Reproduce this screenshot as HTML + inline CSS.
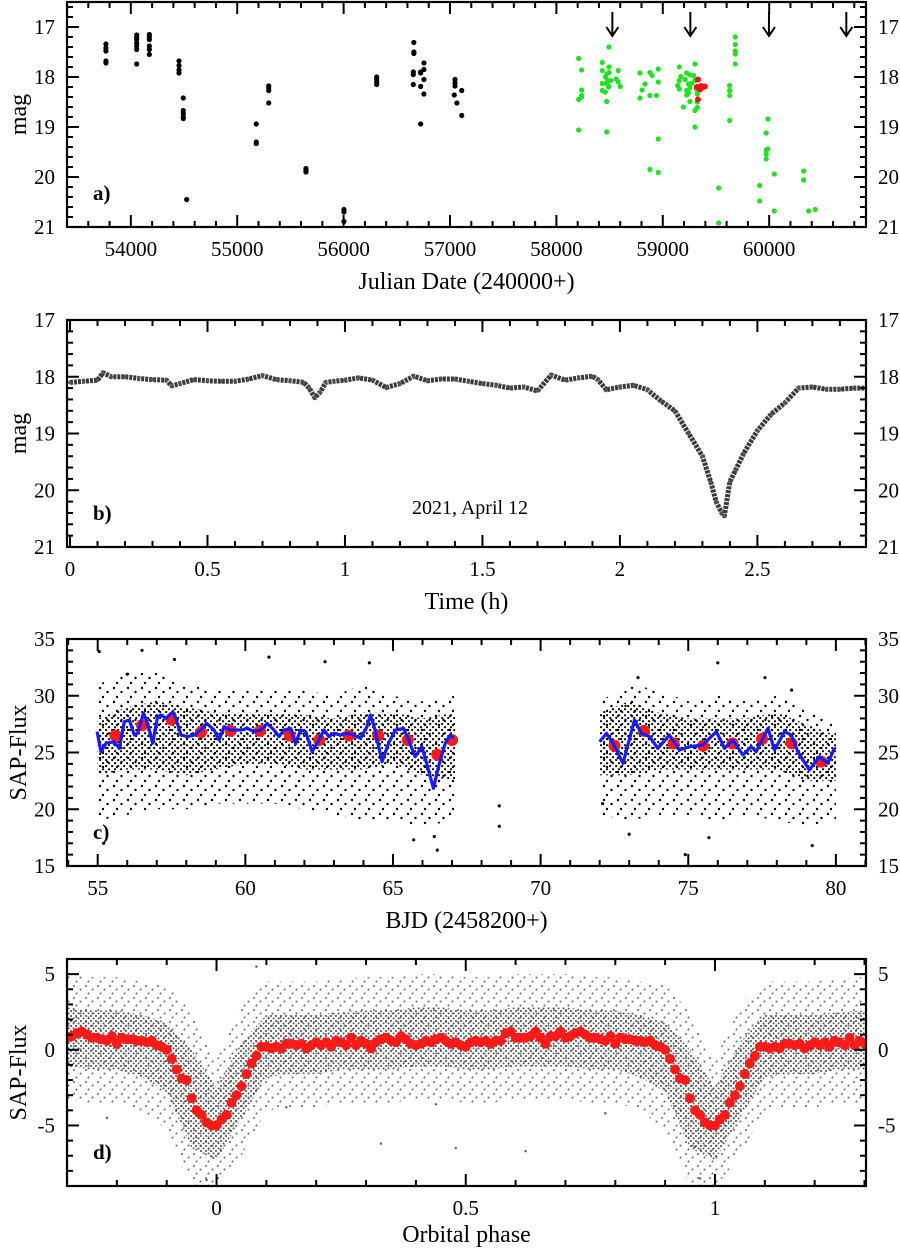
<!DOCTYPE html>
<html><head><meta charset="utf-8">
<style>
html,body{margin:0;padding:0;background:#fff;}
svg{display:block;font-family:"Liberation Serif","DejaVu Serif",serif;}
text{font-family:"Liberation Serif","DejaVu Serif",serif;}
</style></head>
<body>
<svg id="fig" width="900" height="1251" viewBox="0 0 900 1251" xmlns="http://www.w3.org/2000/svg">
<defs>
<pattern id="coreC" width="6" height="6" patternUnits="userSpaceOnUse"><circle cx="1" cy="1.2" r="1.1" fill="#000"/><circle cx="4.2" cy="4" r="1.1" fill="#000"/></pattern>
<pattern id="haloC" width="14" height="14" patternUnits="userSpaceOnUse"><circle cx="2" cy="2" r="1.2" fill="#000"/><circle cx="9.5" cy="6" r="1.2" fill="#000"/><circle cx="5" cy="11" r="1.2" fill="#000"/></pattern>
<pattern id="coreD" width="5" height="5" patternUnits="userSpaceOnUse"><circle cx="1" cy="1" r="1" fill="#444"/><circle cx="3.6" cy="3.4" r="1" fill="#555"/></pattern>
<pattern id="haloD" width="12" height="12" patternUnits="userSpaceOnUse"><circle cx="2" cy="2" r="1" fill="#666"/><circle cx="8.5" cy="5.5" r="1" fill="#666"/><circle cx="4.5" cy="9.5" r="1" fill="#666"/></pattern>
</defs>
</svg>
<script>
// ---------- Panel a data ----------
const aBlackJD  = [53766,53766,53766,53766,53766,54055,54055,54055,54055,54055,54055,54055,54174,54174,54174,54174,54174,54174,54453,54453,54453,54453,54493,54493,54493,54493,54493,54525,55179,55179,55179,55296,55296,55296,55296,55646,55646,55646,56003,56003,56003,56311,56311,56311,56311,56655,56655,56655,56660,56660,56660,56724,56724,56724,56724,56755,56755,56755,56755,57047,57047,57047,57040,57065,57110,57110];
const aBlackMag = [17.34,17.42,17.48,17.68,17.72,17.16,17.21,17.25,17.32,17.38,17.45,17.74,17.15,17.2,17.25,17.38,17.45,17.55,17.68,17.77,17.86,17.92,18.42,18.67,18.73,18.8,18.83,20.45,18.94,19.3,19.33,18.18,18.22,18.27,18.52,19.83,19.87,19.9,20.65,20.7,20.89,18.0,18.04,18.09,18.15,17.9,17.95,18.15,17.31,17.5,17.53,17.9,17.92,18.19,18.94,17.72,17.85,18.05,18.34,18.05,18.12,18.18,18.36,18.52,18.27,18.77];
const aGreenJD  = [58209,58209,58209,58237,58237,58237,58237,58431,58431,58431,58431,58472,58462,58482,58472,58490,58460,58472,58472,58494,58494,58494,58510,58494,58581,58560,58581,58600,58785,58805,58785,58832,58879,58900,58879,58879,58957,58957,58940,58957,58957,59155,59170,59155,59140,59155,59193,59224,59210,59240,59224,59224,59255,59270,59255,59240,59255,59302,59290,59302,59315,59302,59302,59324,59324,59324,59525,59525,59628,59628,59628,59628,59681,59681,59681,59681,59681,59910,59910,59972,59972,59972,59972,59988,59988,60048,60048,60324,60324,60371,60433];
const aGreenMag = [17.63,18.45,19.06,17.86,18.26,18.37,18.4,17.71,17.87,18.13,18.27,17.94,18.0,18.07,18.13,18.2,18.3,18.49,19.1,17.4,17.8,17.91,18.07,18.19,17.87,18.04,18.1,18.19,17.92,18.26,18.42,18.14,17.91,17.97,18.37,19.85,17.84,18.1,18.37,19.24,19.91,17.8,17.99,18.07,18.17,18.24,18.6,17.92,18.05,18.14,18.27,18.36,17.96,18.13,18.22,18.32,18.49,17.74,17.97,18.07,18.24,18.67,19.0,18.34,18.5,18.61,20.22,20.92,18.17,18.27,18.37,18.87,17.2,17.35,17.48,17.54,17.74,20.17,20.48,19.12,19.46,19.54,19.64,18.84,19.44,19.94,20.68,19.88,20.06,20.68,20.65];
const aRedJD  = [59320,59340,59360,59380,59395,59330,59330,59350];
const aRedMag = [18.2,18.22,18.18,18.2,18.19,18.05,18.45,18.25];
const aArrowJD = [58526,59259,59998,60725];

// ---------- Panel b data ----------
const bTime = [0,0.05,0.1,0.12,0.15,0.2,0.25,0.3,0.35,0.37,0.4,0.45,0.5,0.55,0.6,0.65,0.7,0.75,0.8,0.85,0.87,0.89,0.91,0.93,0.96,1.0,1.05,1.1,1.15,1.2,1.25,1.3,1.35,1.4,1.45,1.5,1.55,1.6,1.65,1.7,1.75,1.8,1.85,1.9,1.92,1.95,2.0,2.05,2.1,2.15,2.2,2.25,2.3,2.33,2.35,2.37,2.38,2.4,2.42,2.45,2.5,2.55,2.6,2.65,2.7,2.75,2.8,2.85,2.9];
const bMag  = [18.1,18.08,18.06,17.93,18.0,18.0,18.03,18.05,18.06,18.16,18.12,18.05,18.07,18.08,18.08,18.04,17.98,18.05,18.07,18.1,18.2,18.37,18.27,18.1,18.08,18.06,18.02,18.06,18.19,18.12,17.99,18.07,18.04,18.04,18.08,18.12,18.15,18.2,18.18,18.25,17.97,18.06,18.02,17.99,18.05,18.23,18.18,18.15,18.23,18.43,18.6,19.0,19.4,19.85,20.2,20.4,20.45,19.85,19.65,19.35,18.95,18.66,18.46,18.2,18.18,18.22,18.22,18.2,18.2];

// ---------- Panel c data ----------
const cLine1T = [54.98,55.11,55.28,55.56,55.73,55.90,56.07,56.24,56.35,56.55,56.69,56.86,57.03,57.14,57.31,57.48,57.59,57.82,58.04,58.27,58.49,58.69,58.94,59.11,59.28,59.50,59.84,60.07,60.29,60.52,60.74,60.97,61.14,61.31,61.53,61.70,61.87,62.04,62.26,62.49,62.66,62.83,63.00,63.22,63.45,63.67,63.90,64.12,64.23,64.35,64.63,64.85,65.08,65.36,65.53,65.75,65.98,66.20,66.37,66.54,66.77,66.94,67.05];
const cLine1F = [26.84,25.07,25.81,25.95,25.37,27.72,27.86,26.54,26.69,28.45,27.57,25.81,28.16,28.30,28.01,28.45,28.45,26.54,26.40,26.54,26.98,27.57,26.98,26.10,27.28,26.98,26.98,27.13,26.84,26.98,27.57,26.98,26.40,26.98,27.13,25.81,26.98,26.84,25.07,26.10,26.98,26.40,26.69,26.54,26.69,26.54,26.25,27.28,28.30,27.42,24.19,25.81,26.98,27.13,26.10,24.63,25.51,23.46,21.84,23.75,25.81,26.54,26.25];
const cLine2T = [72.00,72.23,72.45,72.79,73.18,73.41,73.69,73.97,74.36,74.70,75.04,75.49,75.95,76.23,76.51,76.85,77.13,77.30,77.70,77.92,78.26,78.49,78.71,79.10,79.44,79.73,79.95];
const cLine2F = [25.95,26.69,25.81,24.05,27.86,26.69,26.40,25.37,26.54,25.22,25.51,25.66,26.84,25.37,26.10,24.78,25.51,25.07,27.13,25.22,26.84,26.54,25.07,23.46,24.63,24.05,25.37];
const cBinT = [55.6,56.5,57.5,58.5,59.5,60.5,61.5,62.5,63.5,64.5,65.5,66.5,67.0,72.5,73.5,74.5,75.5,76.5,77.5,78.5,79.5];
const cBinF = [26.5,27.4,27.9,26.8,26.9,26.9,26.5,26.1,26.5,26.5,26.1,24.8,26.1,25.6,26.9,25.8,25.6,25.8,26.2,25.8,24.2];
const cEnv1T = [55,56,57,58,59,60,61,62,63,64,65,66,67.1];
const cEnv1Up = [28,29,29.5,29,28.5,28.5,28.5,28.3,28,28.5,28.5,28,28.5];
const cEnv1Lo = [23,23.5,23.5,23,23.5,24,24,23.5,23.5,23.5,24,23,22.5];
const cEnv1HaloUp = [31,32,32,31,30.5,30.5,30.5,30.5,30,31,30,29.5,30];
const cEnv1HaloLo = [19,19.5,20,20,20.5,20.5,20.5,20,19.5,19,19,18.5,19];
const cEnv2T = [72,73,74,75,76,77,78,79,80];
const cEnv2Up = [28.5,29.5,28.5,28,28,28,28.5,27.5,26.5];
const cEnv2Lo = [23,23,23.5,23.5,23.5,23.5,23.5,22.5,22.5];
const cEnv2HaloUp = [29.5,31,30.5,29.5,30,29.5,30,29,27.5];
const cEnv2HaloLo = [19.5,19,19.5,19.5,19,19.5,19,18.5,19];
const cOutT = [55.05,56.5,57.6,60.8,62.7,64.2,73.3,76.0,77.6,66.5,66.4,65.7,73.0,75.7,79.2,74.9,68.6,68.6,55.2,56.0,72.1,78.5];
const cOutF = [33.9,34.0,33.2,33.4,33.0,32.9,31.6,32.9,31.6,16.4,17.6,17.3,17.8,17.5,16.8,16.0,20.3,18.5,17.0,31.9,20.5,30.5];

// ---------- Panel d data (one orbital cycle, phase 0.00..0.99) ----------
const dBinFlux = [-5.0,-4.6,-4.3,-3.5,-3.0,-2.4,-1.6,-0.9,-0.4,0.2,0.2,0.1,0.2,0.1,0.4,0.4,0.3,0.4,0.1,0.3,0.5,0.3,0.5,0.2,0.6,0.5,0.3,0.8,0.3,0.6,0.4,0.1,0.5,0.7,0.8,0.6,0.5,0.9,0.7,0.4,0.3,0.4,0.6,0.5,0.7,0.8,0.6,0.4,0.5,0.3,0.2,0.5,0.6,0.5,0.6,0.4,0.6,0.6,1.1,1.2,0.8,0.8,0.8,0.9,1.2,0.8,0.4,0.9,0.9,1.2,0.8,0.9,1.1,1.2,1.0,0.8,0.8,0.7,0.6,0.9,0.4,0.8,0.7,0.7,0.6,0.6,0.5,0.6,0.3,0.2,0.0,-0.6,-1.3,-1.9,-2.0,-3.2,-4.0,-4.3,-4.8,-5.0];
const dEnvUp = [-2.5,0.5,2.3,2.3,2.3,2.5,2.6,2.6,2.8,2.8,2.6,2.6,2.8,2.8,2.8,2.6,2.6,2.3,1.8,0.0];
const dEnvLo = [-7.3,-4.5,-1.8,-1.6,-1.6,-1.3,-1.3,-1.3,-1.1,-1.1,-1.3,-1.3,-1.1,-1.1,-1.1,-1.3,-1.3,-1.8,-2.8,-6.5];
const dHaloPad = [1.8,2.5,2.2,2.2,2.2,2.2,2.2,2.2,2.2,2.2,2.2,2.2,2.2,2.2,2.2,2.2,2.2,2.2,2.5,2.5];
const dOutP = [-0.28,-0.22,-0.02,0.08,0.33,0.48,0.62,0.78,0.96,0.14,0.44,0.97];
const dOutF = [5.0,-4.5,-8.6,5.5,-6.2,-6.5,-6.7,-4.2,-6.4,-3.8,-3.6,-8.5];

const NS='http://www.w3.org/2000/svg';
const svg=document.getElementById('fig');
function mk(tag,attrs,parent){const e=document.createElementNS(NS,tag);for(const k in attrs)e.setAttribute(k,attrs[k]);(parent||svg).appendChild(e);return e;}
function txt(s,attrs,parent){attrs['font-family']='Liberation Serif, DejaVu Serif, serif';const e=mk('text',attrs,parent);e.textContent=s;return e;}

function makePanel(p){
  const g=mk('g',{});
  
  
  const sx=v=>p.x0+(v-p.xd[0])/(p.xd[1]-p.xd[0])*(p.x1-p.x0);
  const sy=v=>p.y0+(v-p.yd[0])/(p.yd[1]-p.yd[0])*(p.y1-p.y0);
  const cid='clip-'+p.name;
  const cp=mk('clipPath',{id:cid},g);
  mk('rect',{x:p.x0,y:p.y0,width:p.x1-p.x0,height:p.y1-p.y0},cp);
  const plot=mk('g',{'clip-path':'url(#'+cid+')'},g);
  
  
  const tg=mk('g',{stroke:'#000','stroke-width':2},g);
  const xlo=Math.min(p.xd[0],p.xd[1]),xhi=Math.max(p.xd[0],p.xd[1]);
  const nx0=Math.ceil(xlo/p.xMin-1e-9),nx1=Math.floor(xhi/p.xMin+1e-9);
  for(let i=nx0;i<=nx1;i++){
    const v=i*p.xMin;const isMaj=Math.abs(v/p.xMaj-Math.round(v/p.xMaj))<1e-6;
    const L=isMaj?12:6;const x=sx(v);
    mk('line',{x1:x,x2:x,y1:p.y1,y2:p.y1-L},tg);
    mk('line',{x1:x,x2:x,y1:p.y0,y2:p.y0+L},tg);
    if(isMaj){const t=txt(p.xfmt(v),{x:x,y:p.y1+29,'font-size':21,'text-anchor':'middle'},g);
      
      }
  }
  const ylo=Math.min(p.yd[0],p.yd[1]),yhi=Math.max(p.yd[0],p.yd[1]);
  const ny0=Math.ceil(ylo/p.yMin-1e-9),ny1=Math.floor(yhi/p.yMin+1e-9);
  for(let i=ny0;i<=ny1;i++){
    const v=i*p.yMin;const isMaj=Math.abs(v/p.yMaj-Math.round(v/p.yMaj))<1e-6;
    const L=isMaj?12:6;const y=sy(v);
    mk('line',{x1:p.x0,x2:p.x0+L,y1:y,y2:y},tg);
    mk('line',{x1:p.x1,x2:p.x1-L,y1:y,y2:y},tg);
    if(isMaj){
      const s=String(Math.round(v));
      const t1=txt(s,{x:p.x0-12,y:y+7,'font-size':21,'text-anchor':'end'},g);
      
      
      const t2=txt(s,{x:p.x1+12,y:y+7,'font-size':21,'text-anchor':'start'},g);
      
      
    }
  }
  const fr=mk('rect',{x:p.x0,y:p.y0,width:p.x1-p.x0,height:p.y1-p.y0,fill:'none',stroke:'#000','stroke-width':2.2},g);
  
  
  const xt=txt(p.xtitle,{x:(p.x0+p.x1)/2,y:p.y1+p.xtOff,'font-size':24,'text-anchor':'middle'},g);
  
  
  const yc=(p.y0+p.y1)/2;
  const yt=txt(p.ytitle,{x:0,y:0,'font-size':24,'text-anchor':'middle',transform:'translate(26,'+yc+') rotate(-90)'},g);
  
  
  const pl=txt(p.label,{x:p.x0+26,y:p.y1-27,'font-size':21,'font-weight':'bold'},g);
  
  
  return {g,plot,sx,sy};
}
function bandPath(ts,up,lo,sx,sy){
  let d='M'+ts.map((t,i)=>sx(t)+','+sy(up[i])).join('L');
  for(let i=ts.length-1;i>=0;i--)d+='L'+sx(ts[i])+','+sy(lo[i]);
  return d+'Z';
}

// ===== Panel a =====
{
  const P=makePanel({name:'panel-a',x0:67,x1:866,y0:2,y1:227,xd:[53400,60910],yd:[16.5,21],xMaj:1000,xMin:200,yMaj:1,yMin:0.2,xfmt:v=>String(Math.round(v)),xtitle:'Julian Date (240000+)',xtOff:62,ytitle:'mag',label:'a)'});
  aBlackJD.forEach((j,i)=>{const c=mk('circle',{cx:P.sx(j),cy:P.sy(aBlackMag[i]),r:2.6,fill:'#000'},P.plot);
    
    });
  aGreenJD.forEach((j,i)=>{const c=mk('circle',{cx:P.sx(j),cy:P.sy(aGreenMag[i]),r:2.6,fill:'#22e022'},P.plot);
    
    });
  aRedJD.forEach((j,i)=>{const c=mk('circle',{cx:P.sx(j),cy:P.sy(aRedMag[i]),r:3,fill:'#ff1010'},P.plot);
    
    });
  aArrowJD.forEach(j=>{const x=P.sx(j);
    const a=mk('path',{d:'M'+x+','+P.sy(16.7)+'V'+P.sy(17.18)+'M'+(x-6)+','+P.sy(17.0)+'L'+x+','+P.sy(17.18)+'L'+(x+6)+','+P.sy(17.0),fill:'none',stroke:'#000','stroke-width':2},P.plot);
    
    });
}
// ===== Panel b =====
{
  const P=makePanel({name:'panel-b',x0:67,x1:866,y0:320,y1:547,xd:[-0.011,2.895],yd:[17,21],xMaj:0.5,xMin:0.1,yMaj:1,yMin:0.2,xfmt:v=>String(Math.round(v*10)/10),xtitle:'Time (h)',xtOff:62,ytitle:'mag',label:'b)'});
  const ln=mk('polyline',{points:bTime.map((t,i)=>P.sx(t)+','+P.sy(bMag[i])).join(' '),fill:'none',stroke:'#3a3a3a','stroke-width':5,'stroke-linejoin':'round','stroke-dasharray':'3 1'},P.plot);
  
  
  bTime.forEach((t,i)=>{const c=mk('circle',{cx:P.sx(t),cy:P.sy(bMag[i]),r:1.8,fill:'#555'},P.plot);
    
    });
  const n=txt('2021, April 12',{x:470,y:514,'font-size':20,'text-anchor':'middle'},P.g);
  
  
}
// ===== Panel c =====
{
  const P=makePanel({name:'panel-c',x0:67,x1:866,y0:639,y1:866,xd:[53.96,81.02],yd:[35,15],xMaj:5,xMin:1,yMaj:5,yMin:1,xfmt:v=>String(Math.round(v)),xtitle:'BJD (2458200+)',xtOff:62,ytitle:'SAP-Flux',label:'c)'});
  [[cEnv1T,cEnv1HaloUp,cEnv1HaloLo,'haloC'],[cEnv2T,cEnv2HaloUp,cEnv2HaloLo,'haloC'],[cEnv1T,cEnv1Up,cEnv1Lo,'coreC'],[cEnv2T,cEnv2Up,cEnv2Lo,'coreC']].forEach(b=>{
    const e=mk('path',{d:bandPath(b[0],b[1],b[2],P.sx,P.sy),fill:'url(#'+b[3]+')'},P.plot);
    
    });
  cOutT.forEach((t,i)=>{const c=mk('circle',{cx:P.sx(t),cy:P.sy(cOutF[i]),r:1.6,fill:'#000'},P.plot);
    
    });
  cBinT.forEach((t,i)=>{const c=mk('circle',{cx:P.sx(t),cy:P.sy(cBinF[i]),r:6,fill:'#ff1a1a'},P.plot);
    
    });
  [[cLine1T,cLine1F],[cLine2T,cLine2F]].forEach(s=>{
    const l=mk('polyline',{points:s[0].map((t,i)=>P.sx(t)+','+P.sy(s[1][i])).join(' '),fill:'none',stroke:'#1a1aff','stroke-width':3.2,'stroke-linejoin':'round'},P.plot);
    
    });
}
// ===== Panel d =====
{
  const P=makePanel({name:'panel-d',x0:67,x1:866,y0:959,y1:1186,xd:[-0.3,1.303],yd:[6,-9],xMaj:0.5,xMin:0.1,yMaj:5,yMin:1,xfmt:v=>String(Math.round(v*10)/10),xtitle:'Orbital phase',xtOff:56,ytitle:'SAP-Flux',label:'d)'});
  for(let k=-1;k<=1;k++){
    const ts=[],up=[],lo=[],hu=[],hl=[];
    for(let i=0;i<=dEnvUp.length;i++){const j=i%dEnvUp.length;ts.push(k+i*0.05);up.push(dEnvUp[j]);lo.push(dEnvLo[j]);hu.push(dEnvUp[j]+dHaloPad[j]);hl.push(dEnvLo[j]-dHaloPad[j]);}
    const h=mk('path',{d:bandPath(ts,hu,hl,P.sx,P.sy),fill:'url(#haloD)'},P.plot);
    
    
    const c=mk('path',{d:bandPath(ts,up,lo,P.sx,P.sy),fill:'url(#coreD)'},P.plot);
    
    
  }
  dOutP.forEach((t,i)=>{const c=mk('circle',{cx:P.sx(t),cy:P.sy(dOutF[i]),r:1.2,fill:'#555'},P.plot);
    
    });
  for(let k=-1;k<=1;k++){
    dBinFlux.forEach((f,i)=>{const ph=k+i*0.01;if(ph<-0.305||ph>1.305)return;
      const c=mk('circle',{cx:P.sx(ph),cy:P.sy(f),r:5,fill:'#ff1a1a'},P.plot);
      
      });
  }
}
</script>
</body></html>
